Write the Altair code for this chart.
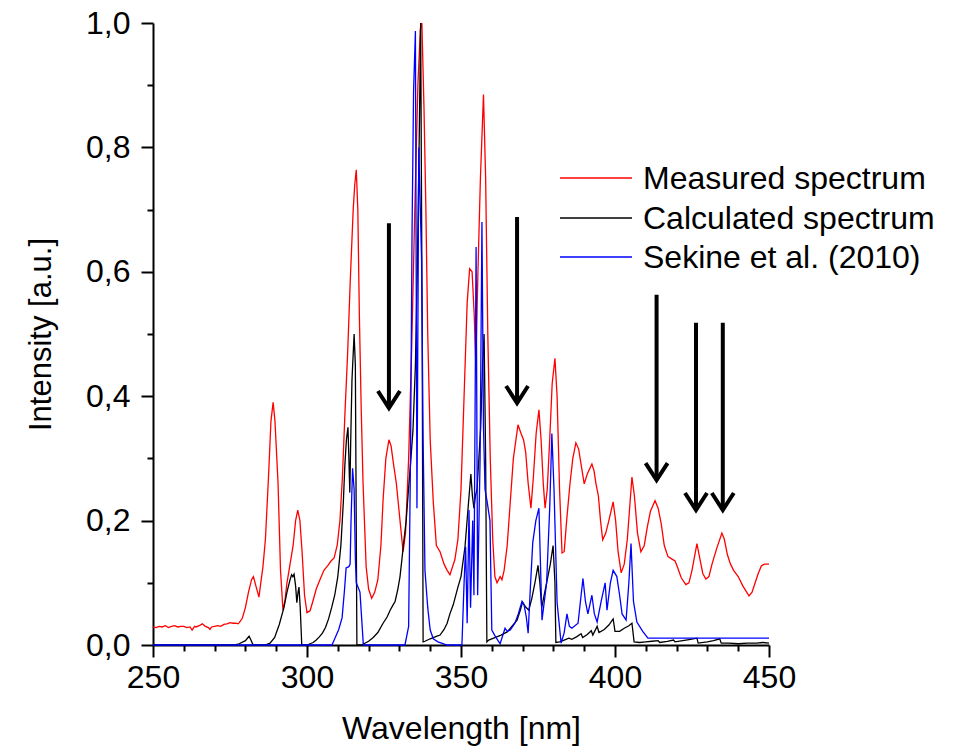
import altair as alt
import pandas as pd

# ---------------- data ----------------
red_nm = [250, 251, 252, 253, 254, 255, 256, 257, 258, 259, 260, 261, 262, 262.7, 263.5, 264, 265, 266, 267, 268,
          268.5, 269, 270, 271, 272, 273, 274, 275, 276, 277, 277.6, 278, 279, 280, 281, 282, 282.6, 283.4, 284.4,
          285, 285.7, 286.5, 287.5, 288.3, 289, 289.6, 290.6, 291.4, 292.2, 292.8, 293.5, 294.5, 295.5, 296.3, 297,
          297.7, 298.4, 299.2, 300, 301, 302, 303, 304.2, 305.5, 306.8, 307.8, 308.8, 309.8, 310.7, 311.5, 312.3,
          313.2, 314, 315, 315.5, 316, 316.5, 317, 317.6, 318.2, 319.2, 320, 321, 322, 323, 324, 324.7, 325.6, 326.6,
          327.3, 328, 329, 330.2, 331.2, 332, 333, 334, 335, 336, 336.8, 337.3, 338, 338.6, 339.2, 340, 341, 342,
          343.2, 344.5, 345.5, 346.4, 347.2, 348, 349, 350, 351, 352, 352.8, 353.6, 354.3, 354.8, 355.5, 356.3,
          357.3, 358, 358.7, 359.5, 360.3, 361, 361.7, 362.2, 362.7, 363.3, 364, 365, 366, 367, 368.5, 369.5, 370.3,
          371, 371.8, 372.7, 373.5, 374.4, 375.3, 376, 376.7, 377.3, 378, 378.8, 379.6, 380.5, 381.2, 382, 382.8,
          383.5, 384.3, 385.4, 386.3, 387.3, 388.2, 389, 390, 391, 392.5, 393.2, 393.8, 394.6, 395.3, 396, 397, 398,
          399.4, 400.2, 401, 402, 403, 404, 405.5, 406.3, 407.3, 408.4, 409.5, 410.5, 411.5, 413, 414, 415, 416,
          417.2, 418.5, 419.5, 420.3, 421.5, 423, 424, 425, 426.6, 427.5, 428.5, 429.5, 430.5, 431.5, 433, 434.7,
          435.5, 436.5, 437.5, 438.5, 440, 441.5, 442.5, 443.5, 444.5, 445.5, 446.5, 447.5, 448.5, 449.3, 450]
red_val = [0.029, 0.028, 0.030, 0.029, 0.031, 0.028, 0.030, 0.031, 0.029, 0.030, 0.030, 0.028, 0.029, 0.024, 0.030,
           0.029, 0.031, 0.034, 0.030, 0.028, 0.025, 0.029, 0.030, 0.031, 0.030, 0.033, 0.034, 0.036, 0.035, 0.035,
           0.034, 0.036, 0.043, 0.06, 0.085, 0.105, 0.11, 0.095, 0.077, 0.1, 0.126, 0.17, 0.27, 0.36, 0.39, 0.36,
           0.26, 0.12, 0.056, 0.07, 0.1, 0.13, 0.16, 0.2, 0.217, 0.2, 0.15, 0.08, 0.052, 0.055, 0.072, 0.09, 0.105,
           0.12, 0.128, 0.135, 0.14, 0.16, 0.2, 0.27, 0.37, 0.47, 0.58, 0.7, 0.74, 0.764, 0.7, 0.53, 0.38, 0.26,
           0.126, 0.09, 0.075, 0.085, 0.105, 0.16, 0.233, 0.3, 0.33, 0.32, 0.294, 0.26, 0.2, 0.15, 0.18, 0.3, 0.48,
           0.7, 0.9, 0.99, 1.0, 0.86, 0.7, 0.5, 0.33, 0.23, 0.16, 0.15, 0.13, 0.12, 0.113, 0.125, 0.137, 0.17, 0.25,
           0.4, 0.55, 0.605, 0.6, 0.53, 0.45, 0.6, 0.75, 0.885, 0.75, 0.5, 0.3, 0.17, 0.11, 0.1, 0.105, 0.11, 0.105,
           0.12, 0.16, 0.23, 0.3, 0.354, 0.34, 0.33, 0.31, 0.26, 0.22, 0.27, 0.34, 0.378, 0.33, 0.26, 0.22, 0.25,
           0.33, 0.42, 0.461, 0.4, 0.25, 0.148, 0.15, 0.2, 0.26, 0.3, 0.325, 0.315, 0.29, 0.259, 0.275, 0.291, 0.28,
           0.26, 0.24, 0.2, 0.169, 0.18, 0.2, 0.23, 0.2, 0.15, 0.116, 0.13, 0.17, 0.27, 0.24, 0.18, 0.15, 0.16, 0.19,
           0.215, 0.232, 0.22, 0.195, 0.16, 0.142, 0.138, 0.135, 0.125, 0.108, 0.097, 0.1, 0.12, 0.163, 0.14, 0.115,
           0.106, 0.11, 0.13, 0.155, 0.18, 0.17, 0.145, 0.13, 0.12, 0.11, 0.095, 0.087, 0.079, 0.085, 0.1, 0.115,
           0.127, 0.13, 0.13, 0.13]

black_nm = [250, 276.5, 278, 280, 281.2, 281.8, 282.5, 286.4, 288, 289.5, 291, 292.5, 293.5, 294.5, 295, 295.4, 295.8,
            296.3, 296.7, 297.1, 297.4, 297.8, 298.3, 300, 301, 302, 303, 304, 305, 306, 307, 308, 309, 310, 311,
            311.8, 312.3, 312.8, 313.3, 313.6, 313.9, 314.2, 314.6, 315.3, 315.7, 316.2, 317.5, 318.5, 320, 321.5,
            323, 324.7, 326, 327, 328, 328.6, 329.5, 330.2, 330.8, 331.5, 332.2, 332.8, 333.6, 334.4, 335.2, 335.8,
            336.4, 336.9, 337.4, 337.7, 338.3, 340, 342, 343.2, 344.5, 345.5, 346.4, 347.5, 349, 350, 351.3, 352.3,
            353.2, 353.7, 354.2, 354.7, 355.2, 355.8, 356.4, 357, 357.5, 358, 358.4, 359, 361, 363, 365, 366.5, 368.2,
            369.2, 370, 370.6, 371, 372, 373, 374, 375, 375.6, 376.2, 377, 377.8, 379, 379.9, 380.5, 380.8, 382,
            383.5, 385, 386, 387.5, 389, 389.5, 391, 392.3, 392.8, 394.2, 394.8, 396.5, 398, 399.4, 400, 401.5, 403,
            404.5, 405.5, 406.2, 408, 410, 412, 414, 414.5, 417, 419, 419.5, 422, 424.5, 426.6, 427, 430, 432, 434,
            434.5, 437, 440, 443, 446, 448, 450]
black_val = [0, 0, 0.002, 0.007, 0.014, 0.008, 0, 0, 0.003, 0.012, 0.033, 0.06, 0.085, 0.105, 0.113, 0.11, 0.114,
             0.095, 0.068, 0.085, 0.093, 0.06, 0, 0, 0.002, 0.004, 0.008, 0.013, 0.019, 0.028, 0.042, 0.06, 0.08, 0.11,
             0.16, 0.23, 0.29, 0.33, 0.35, 0.3, 0.245, 0.33, 0.426, 0.5, 0.45, 0, 0, 0.002, 0.006, 0.012, 0.02, 0.035,
             0.045, 0.056, 0.065, 0.07, 0.09, 0.11, 0.137, 0.17, 0.2, 0.24, 0.29, 0.345, 0.45, 0.6, 0.8, 1.0, 0.5,
             0.005, 0.006, 0.01, 0.014, 0.016, 0.025, 0.035, 0.05, 0.065, 0.093, 0.11, 0.158, 0.22, 0.275, 0.24, 0.22,
             0.24, 0.25, 0.3, 0.35, 0.45, 0.5, 0.3, 0.005, 0.008, 0.012, 0.016, 0.021, 0.03, 0.04, 0.055, 0.069,
             0.064, 0.061, 0.056, 0.075, 0.1, 0.128, 0.1, 0.06, 0.08, 0.1, 0.13, 0.16, 0.1, 0.004, 0.005, 0.008,
             0.011, 0.009, 0.013, 0.018, 0.012, 0.017, 0.023, 0.016, 0.03, 0.02, 0.025, 0.032, 0.042, 0.022, 0.022,
             0.027, 0.031, 0.035, 0.005, 0.004, 0.005, 0.006, 0.007, 0.004, 0.006, 0.008, 0.005, 0.007, 0.009, 0.011,
             0.003, 0.005, 0.007, 0.01, 0.003, 0.003, 0.002, 0.003, 0.003, 0.004, 0.003]

blue_nm = [250, 308.1, 309, 310.3, 311.4, 312.2, 312.7, 313.6, 314, 314.3, 314.8, 315.3, 315.7, 316, 317.2, 318.3,
           331.8, 333, 333.6, 334.1, 334.6, 335.2, 335.7, 336.3, 337.2, 337.7, 338.3, 339.2, 340, 341, 342.5, 345.5,
           350.3, 351, 351.5, 352, 352.6, 353.1, 353.8, 354.2, 354.9, 355.4, 356.2, 356.8, 357.3, 357.8, 358.5,
           359.4, 360, 361, 362.7, 364.3, 365, 366, 367.5, 368.6, 369.8, 370.5, 371.2, 371.8, 372.5, 373.3, 374.3,
           375.3, 376.3, 377.8, 378.8, 379.5, 380.2, 381.2, 382.5, 383.5, 384.4, 385.2, 386, 388, 389.6, 390.4,
           391.2, 392.5, 393.3, 394.2, 395.5, 396.8, 397.4, 398.5, 399.4, 400.6, 401.5, 402.3, 403.6, 404.5, 405.2,
           406, 407.1, 409, 410.7, 450]
blue_val = [0, 0, 0.01, 0.025, 0.044, 0.09, 0.124, 0.126, 0.13, 0.2, 0.284, 0.25, 0.14, 0.1, 0.085, 0,
            0, 0.03, 0.3, 0.66, 0.89, 0.987, 0.22, 0.8, 0.62, 0.33, 0.12, 0.06, 0.024, 0.01, 0.005, 0,
            0, 0.1, 0.158, 0.035, 0.217, 0.06, 0.2, 0.08, 0.64, 0.08, 0.3, 0.68, 0.35, 0.25, 0.23,
            0.2, 0.024, 0.015, 0.002, 0.027, 0.022, 0.024, 0.035, 0.05, 0.07, 0.064, 0.045, 0.019, 0.09, 0.165, 0.2,
            0.22, 0.04, 0.1, 0.22, 0.34, 0.25, 0.068, 0.003, 0.02, 0.05, 0.03, 0.027, 0.035, 0.107, 0.07,
            0.05, 0.08, 0.05, 0.037, 0.07, 0.1, 0.056, 0.1, 0.12, 0.11, 0.08, 0.05, 0.04, 0.1, 0.163,
            0.07, 0.037, 0.022, 0.011, 0.011]

arrow_nm = [326.6, 368.2, 413.5, 426.3, 435.0]
arrow_top = [0.678, 0.688, 0.563, 0.518, 0.518]
arrow_tip = [0.381, 0.389, 0.265, 0.217, 0.217]

legend_labels = ["Measured spectrum", "Calculated spectrum", "Sekine et al. (2010)"]
legend_colors = ["#ff0000", "#000000", "#0000ff"]

x_major = [250, 300, 350, 400, 450]
x_minor = [260, 270, 280, 290, 310, 320, 330, 340, 360, 370, 380, 390, 410, 420, 430, 440]
y_major = [0.0, 0.2, 0.4, 0.6, 0.8, 1.0]
y_minor = [0.1, 0.3, 0.5, 0.7, 0.9]

# ---------------- chart ----------------
FONT = "Liberation Sans"
FS = 32
W, H = 616, 622

xs = alt.Scale(domain=[250, 450], nice=False, zero=False)
ys = alt.Scale(domain=[0, 1.0], nice=False, zero=False)

common_axis = dict(grid=False, domainColor="black", tickColor="black", domainWidth=2, tickWidth=2,
                   labelColor="black", labelFont=FONT, labelFontSize=FS, titleFont=FONT,
                   titleFontWeight="normal", titleColor="black")

x_axis_major = alt.Axis(values=x_major, orient="bottom", tickSize=12, labelPadding=5, title="Wavelength [nm]",
                        titlePadding=20, titleFontSize=FS, labelFlush=False, **common_axis)
y_axis_major = alt.Axis(values=y_major, orient="left", tickSize=12, labelPadding=11, title="Intensity [a.u.]",
                        titlePadding=28, titleFontSize=31,
                        labelExpr="replace(format(datum.value, '.1f'), '.', ',')",
                        labelFlush=False, **common_axis)
x_axis_minor = alt.Axis(values=x_minor, orient="bottom", tickSize=6, labels=False, domain=False, title=None,
                        grid=False, tickColor="black", tickWidth=2)
y_axis_minor = alt.Axis(values=y_minor, orient="left", tickSize=6, labels=False, domain=False, title=None,
                        grid=False, tickColor="black", tickWidth=2)

df_red = pd.DataFrame({"nm": red_nm, "I": red_val})
df_black = pd.DataFrame({"nm": black_nm, "I": black_val})
df_blue = pd.DataFrame({"nm": blue_nm, "I": blue_val})
df_arrow = pd.DataFrame({"nm": arrow_nm, "top": arrow_top, "tip": arrow_tip})

red = alt.Chart(df_red).mark_line(color=legend_colors[0], strokeWidth=1.3).encode(
    x=alt.X("nm:Q", scale=xs, axis=x_axis_major),
    y=alt.Y("I:Q", scale=ys, axis=y_axis_major),
)
black = alt.Chart(df_black).mark_line(color=legend_colors[1], strokeWidth=1.3).encode(
    x=alt.X("nm:Q", scale=xs, axis=x_axis_minor),
    y=alt.Y("I:Q", scale=ys, axis=y_axis_minor),
)
blue = alt.Chart(df_blue).mark_line(color=legend_colors[2], strokeWidth=1.3).encode(
    x=alt.X("nm:Q", scale=xs, axis=None),
    y=alt.Y("I:Q", scale=ys, axis=None),
)

shafts = alt.Chart(df_arrow).mark_rule(color="black", strokeWidth=4).encode(
    x=alt.X("nm:Q", scale=xs, axis=None),
    y=alt.Y("top:Q", scale=ys, axis=None),
    y2="tip:Q",
)
heads = alt.Chart(df_arrow).mark_point(shape="M -1 -1.55 L 0 0 L 1 -1.55", size=484, filled=False,
                                       strokeWidth=4, color="black", opacity=1).encode(
    x=alt.X("nm:Q", scale=xs, axis=None),
    y=alt.Y("tip:Q", scale=ys, axis=None),
)

legend_layers = []
row_y = [155, 195, 234]
for lab, col, yy in zip(legend_labels, legend_colors, row_y):
    legend_layers.append(
        alt.Chart(pd.DataFrame({"k": [0]})).mark_rule(color=col, strokeWidth=1.3).encode(
            x=alt.value(407), x2=alt.value(479), y=alt.value(yy))
    )
    legend_layers.append(
        alt.Chart(pd.DataFrame({"k": [0]})).mark_text(text=lab, font=FONT, fontSize=FS, color="black",
                                                      align="left", baseline="middle").encode(
            x=alt.value(490), y=alt.value(yy + 1))
    )

chart = alt.layer(red, black, blue, shafts, heads, *legend_layers).resolve_axis(
    x="independent", y="independent"
).properties(
    width=W, height=H,
    autosize=alt.AutoSizeParams(type="none"),
    padding={"left": 153, "top": 23, "right": 958 - 153 - W, "bottom": 752 - 23 - H},
    background="white",
).configure_view(stroke=None)

chart.save("out.html", embed_options={"renderer": "svg", "actions": False})
